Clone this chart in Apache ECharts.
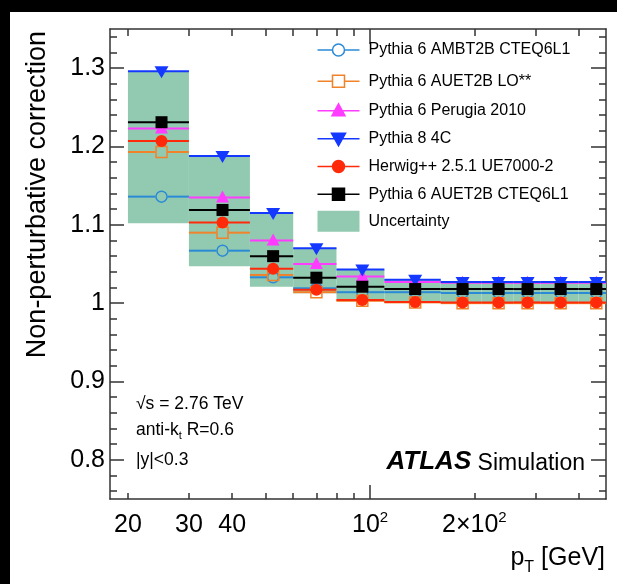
<!DOCTYPE html>
<html>
<head>
<meta charset="utf-8">
<script src="https://cdn.jsdelivr.net/npm/echarts@6/dist/echarts.min.js"></script>
<style>
  html, body { margin: 0; padding: 0; background: #000; }
  #chart { width: 617px; height: 584px; }
</style>
</head>
<body>
<div id="chart"></div>
<script>
// Jet pT bin edges [GeV]
const ptEdges = [20, 30, 45, 60, 80, 110, 160, 210, 260, 310, 400, 500];

// Non-perturbative correction per bin for each generator tune
const pythia6AMBT2B   = [1.136, 1.067, 1.033, 1.019, 1.014, 1.014, 1.013, 1.013, 1.013, 1.013, 1.013];
const pythia6AUET2BLO = [1.193, 1.090, 1.036, 1.014, 1.003, 1.001, 1.000, 1.000, 1.000, 1.000, 1.000];
const pythia6Perugia  = [1.223, 1.135, 1.080, 1.050, 1.034, 1.027, 1.026, 1.026, 1.026, 1.026, 1.026];
const pythia8_4C      = [1.296, 1.188, 1.115, 1.070, 1.043, 1.030, 1.027, 1.027, 1.027, 1.027, 1.027];
const herwigUE7000    = [1.207, 1.103, 1.044, 1.017, 1.004, 1.0015, 1.001, 1.001, 1.001, 1.001, 1.001];
const pythia6AUET2BCT = [1.231, 1.119, 1.060, 1.0325, 1.021, 1.018, 1.018, 1.018, 1.018, 1.018, 1.018];

// Uncertainty envelope
const bandLow  = [1.102, 1.047, 1.021, 1.0127, 1.003, 1.001, 1.000, 1.000, 1.000, 1.000, 1.000];
const bandHigh = [1.296, 1.188, 1.115, 1.070, 1.043, 1.030, 1.027, 1.027, 1.027, 1.027, 1.027];

// Axis ticks and labels
const yLabelValues = [0.8, 0.9, 1.0, 1.1, 1.2, 1.3];
const yMinorValues = [0.76, 0.78, 0.82, 0.84, 0.86, 0.88, 0.92, 0.94, 0.96, 0.98,
                      1.02, 1.04, 1.06, 1.08, 1.12, 1.14, 1.16, 1.18, 1.22, 1.24, 1.26, 1.28, 1.32, 1.34];
const xMinorValues = [20, 30, 40, 50, 60, 70, 80, 90, 200, 300, 400];
const xMajorValues = [100];
const xLabelValues = [20, 30, 40, 100, 200];
const xLabelTexts  = ['20', '30', '40', '10^2', '2×10^2'];

const FONT = '"Liberation Sans", Arial, Helvetica, sans-serif';
const AXIS_COLOR = '#333';
const X_MIN = 17.75, X_MAX = 480, Y_MIN = 0.75, Y_MAX = 1.35;

const models = [
  { name: 'Pythia 6 AMBT2B CTEQ6L1', values: pythia6AMBT2B,   color: '#2b8ad6', marker: 'openCircle' },
  { name: 'Pythia 6 AUET2B LO**',    values: pythia6AUET2BLO, color: '#f0832a', marker: 'openSquare' },
  { name: 'Pythia 6 Perugia 2010',   values: pythia6Perugia,  color: '#ff3cff', marker: 'triangleUp' },
  { name: 'Pythia 8 4C',             values: pythia8_4C,      color: '#1438ff', marker: 'triangleDown' },
  { name: 'Herwig++ 2.5.1 UE7000-2', values: herwigUE7000,    color: '#ff2a0a', marker: 'circle' },
  { name: 'Pythia 6 AUET2B CTEQ6L1', values: pythia6AUET2BCT, color: '#000000', marker: 'square' }
];
const BAND_COLOR = '#92c9b1';
const BAND_NAME = 'Uncertainty';

// Marker drawn around a pixel centre
function markerShape(kind, c, color) {
  const x = c[0], y = c[1];
  switch (kind) {
    case 'openCircle':
      return { type: 'circle', shape: { cx: x, cy: y, r: 5.5 }, style: { fill: 'none', stroke: color, lineWidth: 1.5 } };
    case 'openSquare':
      return { type: 'rect', shape: { x: x - 5.5, y: y - 5.5, width: 11, height: 11 }, style: { fill: 'none', stroke: color, lineWidth: 1.5 } };
    case 'triangleUp':
      return { type: 'polygon', shape: { points: [[x, y - 7], [x + 6.5, y + 5], [x - 6.5, y + 5]] }, style: { fill: color } };
    case 'triangleDown':
      return { type: 'polygon', shape: { points: [[x - 7, y - 5], [x + 7, y - 5], [x, y + 7]] }, style: { fill: color } };
    case 'circle':
      return { type: 'circle', shape: { cx: x, cy: y, r: 6 }, style: { fill: color } };
    default:
      return { type: 'rect', shape: { x: x - 6, y: y - 6, width: 12, height: 12 }, style: { fill: color } };
  }
}

function binData(values) {
  return values.map((v, i) => [ptEdges[i], ptEdges[i + 1], (ptEdges[i] + ptEdges[i + 1]) / 2, v]);
}

function modelSeries(m) {
  const open = m.marker === 'openCircle' || m.marker === 'openSquare';
  return {
    type: 'custom',
    name: m.name,
    xAxisIndex: 0, yAxisIndex: 0,
    clip: true,
    z: 3,
    data: binData(m.values),
    encode: { x: [0, 1, 2], y: 3 },
    renderItem: (params, api) => {
      const v = api.value(3);
      const lo = api.coord([api.value(0), v]);
      const hi = api.coord([api.value(1), v]);
      const c = api.coord([api.value(2), v]);
      const ls = { stroke: m.color, lineWidth: 2 };
      const children = [];
      if (open) {
        children.push({ type: 'line', shape: { x1: lo[0], y1: lo[1], x2: c[0] - 6, y2: c[1] }, style: ls });
        children.push({ type: 'line', shape: { x1: c[0] + 6, y1: c[1], x2: hi[0], y2: hi[1] }, style: ls });
      } else {
        children.push({ type: 'line', shape: { x1: lo[0], y1: lo[1], x2: hi[0], y2: hi[1] }, style: ls });
      }
      children.push(markerShape(m.marker, c, m.color));
      return { type: 'group', children };
    }
  };
}

const bandSeries = {
  type: 'custom',
  name: BAND_NAME,
  xAxisIndex: 0, yAxisIndex: 0,
  clip: true,
  z: 2,
  data: bandLow.map((lo, i) => [ptEdges[i], ptEdges[i + 1], lo, bandHigh[i]]),
  encode: { x: [0, 1], y: [2, 3] },
  renderItem: (params, api) => {
    const p0 = api.coord([api.value(0), api.value(3)]);
    const p1 = api.coord([api.value(1), api.value(2)]);
    return {
      type: 'rect',
      shape: { x: p0[0], y: p0[1], width: p1[0] - p0[0], height: p1[1] - p0[1] },
      style: { fill: BAND_COLOR }
    };
  }
};

// Legend icons: horizontal line with the marker in the middle (42 x 21 box)
const LINE = 'M0,10.5 L42,10.5';
const SPLIT_LINE = 'M0,10.5 L15,10.5 M27,10.5 L42,10.5';
const BOX = 'M0,0 M42,21 ';
const CIRCLE = 'M27,10.5 A6,6 0 1 1 15,10.5 A6,6 0 1 1 27,10.5 Z';
const SQUARE = 'M15,4.5 L27,4.5 L27,16.5 L15,16.5 Z';
const iconPaths = {
  openCircle: BOX + SPLIT_LINE + ' ' + CIRCLE,
  openSquare: BOX + SPLIT_LINE + ' ' + SQUARE,
  triangleUp: BOX + LINE + ' M21,3.5 L27.5,15.5 L14.5,15.5 Z',
  triangleDown: BOX + LINE + ' M14,5 L28,5 L21,17.5 Z',
  circle: BOX + LINE + ' ' + CIRCLE,
  square: BOX + LINE + ' ' + SQUARE
};

const legendData = models.map(m => {
  const open = m.marker === 'openCircle' || m.marker === 'openSquare';
  return {
    name: m.name,
    icon: 'path://' + iconPaths[m.marker],
    itemStyle: { color: open ? 'none' : m.color, borderColor: m.color, borderWidth: 1.5 }
  };
});
legendData.push({ name: BAND_NAME, icon: 'rect', itemStyle: { color: BAND_COLOR, borderWidth: 0 } });

function xLabelFormatter(val) {
  for (let i = 0; i < xLabelValues.length; i++) {
    if (Math.abs(val - xLabelValues[i]) < 1e-6 * xLabelValues[i]) {
      const parts = xLabelTexts[i].split('^');
      return parts.length > 1 ? '{n|' + parts[0] + '}{s|' + parts[1] + '}' : '{n|' + parts[0] + '}';
    }
  }
  return '';
}

function xAxisDef(position, tickValues, tickLen, showLabel, showLine) {
  return {
    type: 'log', logBase: 10, gridIndex: 0, position,
    min: X_MIN, max: X_MAX,
    axisLine: { show: showLine, onZero: false, lineStyle: { color: AXIS_COLOR, width: 1.5 } },
    axisTick: { show: true, inside: true, length: tickLen, customValues: tickValues, lineStyle: { color: AXIS_COLOR, width: 1.5 } },
    axisLabel: showLabel ? {
      show: true, customValues: xLabelValues, margin: 11, formatter: xLabelFormatter,
      rich: {
        n: { fontFamily: FONT, fontSize: 25, color: '#000', lineHeight: 28, verticalAlign: 'bottom' },
        s: { fontFamily: FONT, fontSize: 15, color: '#000', lineHeight: 18, verticalAlign: 'top' }
      }
    } : { show: false },
    splitLine: { show: false }, minorTick: { show: false }
  };
}

function yAxisDef(position, tickValues, tickLen, showLabel, showLine) {
  return {
    type: 'value', gridIndex: 0, position,
    min: Y_MIN, max: Y_MAX,
    axisLine: { show: showLine, onZero: false, lineStyle: { color: AXIS_COLOR, width: 1.5 } },
    axisTick: { show: true, inside: true, length: tickLen, customValues: tickValues, lineStyle: { color: AXIS_COLOR, width: 1.5 } },
    axisLabel: showLabel ? {
      show: true, customValues: yLabelValues, margin: 5,
      fontFamily: FONT, fontSize: 25, color: '#000',
      formatter: v => String(Math.round(v * 10) / 10)
    } : { show: false },
    splitLine: { show: false }
  };
}

const chart = echarts.init(document.getElementById('chart'), null, { renderer: 'canvas' });
chart.setOption({
  backgroundColor: '#000',
  animation: false,
  textStyle: { fontFamily: FONT },
  grid: { left: 110, top: 29, width: 496, height: 470, containLabel: false, outerBoundsMode: 'none' },
  xAxis: [
    xAxisDef('bottom', xMinorValues, 6, true, true),
    xAxisDef('bottom', xMajorValues, 14, false, false),
    xAxisDef('top', xMinorValues, 7, false, true),
    xAxisDef('top', xMajorValues, 15, false, false)
  ],
  yAxis: [
    yAxisDef('left', yLabelValues, 14, true, true),
    yAxisDef('left', yMinorValues, 7, false, false),
    yAxisDef('right', yLabelValues, 15, false, true),
    yAxisDef('right', yMinorValues, 7, false, false)
  ],
  legend: {
    orient: 'vertical', left: 315, top: 37, padding: 0,
    itemWidth: 42, itemHeight: 21, itemGap: 5.3,
    selectedMode: false,
    textStyle: { fontFamily: FONT, fontSize: 16, color: '#000', padding: [0, 0, 0, 4] },
    data: legendData
  },
  series: [bandSeries].concat(models.map(modelSeries)),
  graphic: [
    { type: 'rect', z: -100, silent: true, shape: { x: 10, y: 12, width: 607, height: 572 }, style: { fill: '#fff' } },
    { type: 'text', x: 38, y: 31, rotation: Math.PI / 2, silent: true,
      style: { text: 'Non-perturbative correction', font: '27px ' + FONT, fill: '#000', align: 'right', verticalAlign: 'middle' } },
    { type: 'text', x: 605, y: 561, silent: true,
      style: { text: '{p|p}{t|T}{g| [GeV]}', align: 'right', verticalAlign: 'middle', fill: '#000',
        rich: {
          p: { fontFamily: FONT, fontSize: 25, lineHeight: 30, verticalAlign: 'top' },
          t: { fontFamily: FONT, fontSize: 16, lineHeight: 20, verticalAlign: 'bottom' },
          g: { fontFamily: FONT, fontSize: 25, lineHeight: 30, verticalAlign: 'top' }
        } } },
    { type: 'text', x: 136, y: 404, silent: true,
      style: { text: '√s = 2.76 TeV', font: '17.5px ' + FONT, fill: '#000', align: 'left', verticalAlign: 'middle' } },
    { type: 'text', x: 136, y: 431, silent: true,
      style: { text: '{a|anti-k}{b|t}{a| R=0.6}', align: 'left', verticalAlign: 'middle', fill: '#000',
        rich: {
          a: { fontFamily: FONT, fontSize: 17.5, lineHeight: 20, verticalAlign: 'top' },
          b: { fontFamily: FONT, fontSize: 11, lineHeight: 13, verticalAlign: 'bottom' }
        } } },
    { type: 'text', x: 136, y: 460, silent: true,
      style: { text: '|y|<0.3', font: '17.5px ' + FONT, fill: '#000', align: 'left', verticalAlign: 'middle' } },
    { type: 'text', x: 585, y: 461, silent: true,
      style: { text: '{a|ATLAS}{b| Simulation}', align: 'right', verticalAlign: 'middle', fill: '#000',
        rich: {
          a: { fontFamily: FONT, fontSize: 26, fontWeight: 'bold', fontStyle: 'italic', lineHeight: 28, verticalAlign: 'bottom' },
          b: { fontFamily: FONT, fontSize: 23, lineHeight: 25, verticalAlign: 'bottom' }
        } } }
  ]
});
</script>
</body>
</html>
